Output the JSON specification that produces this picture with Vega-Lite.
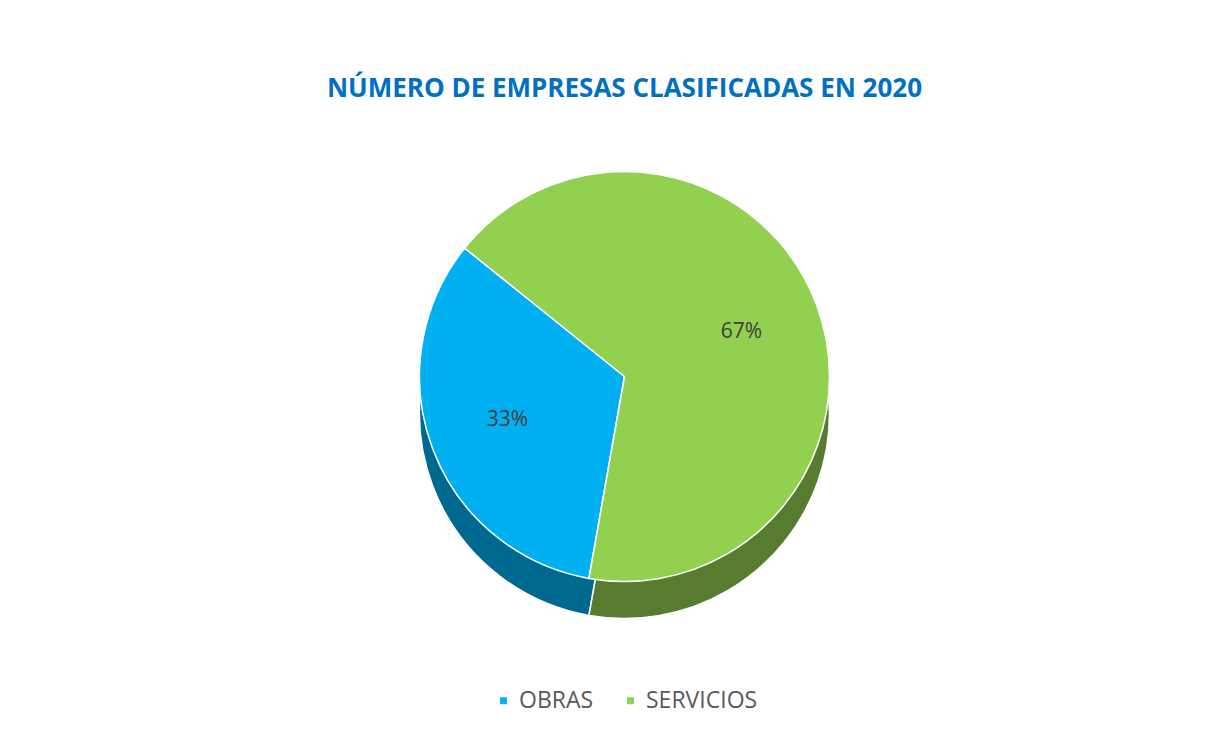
{
  "$schema": "https://vega.github.io/schema/vega-lite/v6.json",
  "width": 1231,
  "height": 729,
  "autosize": {"type": "fit", "contains": "padding"},
  "padding": {"top": 76, "bottom": 16, "left": 20, "right": 2},
  "background": "white",
  "config": {
    "legend": {"layout": {"bottom": {"anchor": "middle"}}},
    "view": {"stroke": null}
  },
  "title": {
    "text": "NÚMERO DE EMPRESAS CLASIFICADAS EN 2020",
    "font": "Open Sans",
    "fontSize": 26,
    "fontWeight": "bold",
    "color": "#0070C0",
    "anchor": "middle",
    "offset": 20
  },
  "data": {
    "values": [
      {"categoria": "OBRAS", "valor": 0.33},
      {"categoria": "SERVICIOS", "valor": 0.67}
    ]
  },
  "encoding": {
    "theta": {
      "field": "valor",
      "type": "quantitative",
      "stack": true,
      "scale": {"range": [3.316, 9.599]}
    },
    "color": {
      "field": "categoria",
      "type": "nominal",
      "scale": {"domain": ["OBRAS", "SERVICIOS"], "range": ["#00B0F0", "#92D050"]},
      "legend": {
        "title": null,
        "orient": "bottom",
        "direction": "horizontal",
        "symbolType": "square",
        "symbolSize": 70,
        "labelFontSize": 23,
        "labelFont": "Open Sans",
        "labelColor": "#595959",
        "columnPadding": 25,
        "offset": 58
      }
    }
  },
  "layer": [
    {"mark": {"type": "arc", "outerRadius": 205, "yOffset": 37, "stroke": "white", "strokeWidth": 1.5}},
    {"mark": {"type": "arc", "outerRadius": 205, "yOffset": 37, "fill": "black", "opacity": 0.4, "stroke": "white", "strokeWidth": 1.5}},
    {"mark": {"type": "arc", "outerRadius": 205, "stroke": "white", "strokeWidth": 1.5}},
    {
      "mark": {"type": "text", "radius": 125, "fontSize": 21, "font": "Open Sans", "color": "#404040"},
      "encoding": {
        "text": {"field": "valor", "type": "quantitative", "format": ".0%"},
        "color": {"value": "#404040"}
      }
    }
  ]
}
